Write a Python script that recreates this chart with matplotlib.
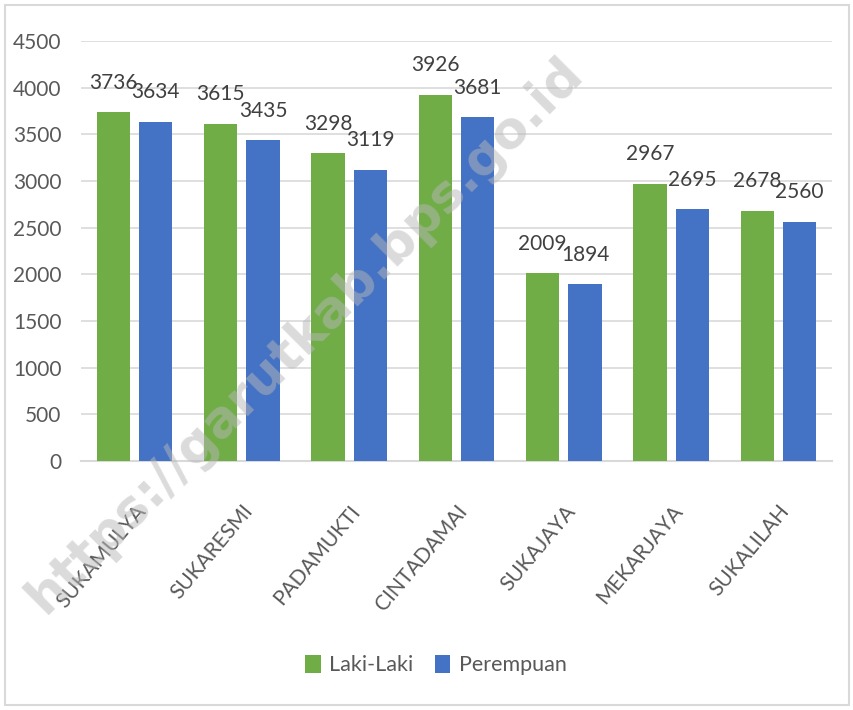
import matplotlib
matplotlib.use("Agg")
import matplotlib.pyplot as plt
import matplotlib.transforms as mtransforms
import numpy as np
from matplotlib.patches import Rectangle

categories = ["SUKAMULYA", "SUKARESMI", "PADAMUKTI", "CINTADAMAI", "SUKAJAYA", "MEKARJAYA", "SUKALILAH"]
laki = [3736, 3615, 3298, 3926, 2009, 2967, 2678]
perempuan = [3634, 3435, 3119, 3681, 1894, 2695, 2560]
yticks = [0, 500, 1000, 1500, 2000, 2500, 3000, 3500, 4000, 4500]

plt.rcParams['font.family'] = ['Lato', 'DejaVu Sans']

txt = "#595959"
green = "#70AD47"
blue = "#4472C4"

fig = plt.figure(figsize=(8.54, 7.10), dpi=100)
W, H = 854, 710
ax = fig.add_axes([81 / W, 1 - 461 / H, (832 - 81) / W, (461 - 41) / H])

x = np.arange(len(categories))
bw = 0.31
gap = 0.085
ax.bar(x - (bw + gap) / 2, laki, bw, color=green, label="Laki-Laki", zorder=3)
ax.bar(x + (bw + gap) / 2, perempuan, bw, color=blue, label="Perempuan", zorder=3)

for i in range(len(categories)):
    ax.annotate(str(laki[i]), (x[i] - (bw + gap) / 2, laki[i]), xytext=(0, 17),
                textcoords="offset points", ha="center", va="baseline", fontsize=15, color="#404040")
    ax.annotate(str(perempuan[i]), (x[i] + (bw + gap) / 2, perempuan[i]), xytext=(0, 17),
                textcoords="offset points", ha="center", va="baseline", fontsize=15, color="#404040")

ax.set_ylim(0, 4500)
ax.set_xlim(-0.5, len(categories) - 0.5)
ax.set_yticks(yticks)
ax.set_yticklabels([str(v) for v in yticks], fontsize=15, color=txt)
ax.set_xticks(x)
ax.set_xticklabels(categories, rotation=50, ha="right", rotation_mode="anchor",
                   fontsize=15, color=txt)
shift = mtransforms.ScaledTranslation(-4 / 100, 0, fig.dpi_scale_trans)
for lab in ax.get_xticklabels():
    lab.set_transform(lab.get_transform() + shift)
ax.tick_params(axis="both", length=0)
ax.tick_params(axis="y", pad=14)
ax.tick_params(axis="x", pad=29)
ax.grid(axis="y", color="#D9D9D9", linewidth=1.2, zorder=0)
for s in ["top", "right", "left"]:
    ax.spines[s].set_visible(False)
ax.spines["bottom"].set_color("#D9D9D9")
ax.spines["bottom"].set_linewidth(1.5)

fig.legend(loc="center", bbox_to_anchor=(436 / W, 1 - 665 / H), ncol=2, frameon=False,
           fontsize=15.5, handlelength=0.7, handleheight=0.9, handletextpad=0.4,
           columnspacing=1.0, labelcolor=txt)

fig.patches.append(Rectangle((5 / W, 5 / H), (W - 10) / W, (H - 10) / H, transform=fig.transFigure,
                             fill=False, edgecolor="#D9D9D9", linewidth=1.5))

fig.text(305 / W, 1 - 335 / H, "https://garutkab.bps.go.id", rotation=45, ha="center", va="center",
         fontsize=37, fontweight="bold", color="#B8B8B8", alpha=0.5, family="DejaVu Sans", zorder=10)

fig.savefig("out.png", dpi=100)
